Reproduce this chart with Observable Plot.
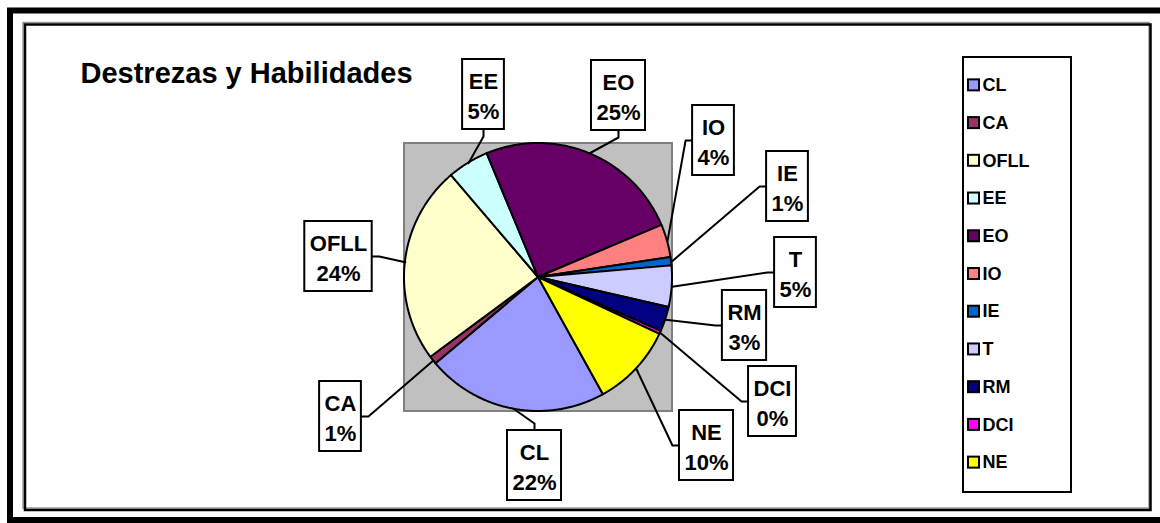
<!DOCTYPE html>
<html><head><meta charset="utf-8">
<script src="https://cdn.jsdelivr.net/npm/d3@7"></script>
<script src="https://cdn.jsdelivr.net/npm/@observablehq/plot@0.6"></script>
<style>body{margin:0;background:#fff;overflow:hidden}</style>
</head><body><div id="chart"></div>
<script>
// ---- data ----
const title = "Destrezas y Habilidades";
const categories = ["CL","CA","OFLL","EE","EO","IO","IE","T","RM","DCI","NE"];
const values = [22, 1, 24, 5, 25, 4, 1, 5, 3, 0.4, 10];
const colors = ["#9999FF","#993366","#FFFFCC","#CCFFFF","#660066","#FF8080","#0066CC","#CCCCFF","#000080","#FF00FF","#FFFF00"];

// ---- layout ----
const W = 1160, H = 523;
const FONT = "'Liberation Sans', Arial, sans-serif";
const pieGeom = {cx: 538, cy: 277, r: 134, startDeg: 151};
const plotArea = [{x1: 404, y1: 143, x2: 672, y2: 411}];
const outerFrame = [{x1: 10, y1: 10.5, x2: 1180, y2: 520}];
const innerFrameShadow = [{x1: 23, y1: 22.5, x2: 1149, y2: 508}];
const innerFrame = [{x1: 25, y1: 24.5, x2: 1150.5, y2: 510}];
const legendBox = {x1: 963, y1: 57, x2: 1071, y2: 492};
const labelLayout = {
  CL: {x: 534, y: 465, side: "top"},
  CA: {x: 340, y: 416, side: "right"},
  OFLL: {x: 338, y: 256, side: "right"},
  EE: {x: 483, y: 94, side: "bottom"},
  EO: {x: 618, y: 95, side: "bottom"},
  IO: {x: 713, y: 140, side: "left"},
  IE: {x: 787, y: 186, side: "left"},
  T: {x: 795, y: 272, side: "left"},
  RM: {x: 744, y: 325, side: "left"},
  DCI: {x: 772, y: 401, side: "left"},
  NE: {x: 706, y: 445, side: "left"}
};
const labelFont = 22, labelBoxH = 70, labelPad = 5, stub = 7;

// ---- computations ----
const total = d3.sum(values);
const a0 = pieGeom.startDeg * Math.PI / 180;
const arcs = d3.pie().sort(null).value(d => d).startAngle(a0).endAngle(a0 + 2 * Math.PI)(values);

const wedgePts = [];
arcs.forEach((a, i) => {
  const n = Math.max(2, Math.ceil((a.endAngle - a.startAngle) / (Math.PI / 360)));
  for (let k = 0; k <= n; k++) {
    const t = a.startAngle + (a.endAngle - a.startAngle) * k / n;
    wedgePts.push({key: categories[i], cx: pieGeom.cx, cy: pieGeom.cy,
      x: pieGeom.cx + pieGeom.r * Math.sin(t), y: pieGeom.cy - pieGeom.r * Math.cos(t)});
  }
});

const ctx = document.createElement("canvas").getContext("2d");
ctx.font = `bold ${labelFont}px ${FONT}`;

const labels = [], leaders = [];
arcs.forEach((a, i) => {
  const name = categories[i];
  const pct = Math.round(values[i] / total * 100) + "%";
  const L = labelLayout[name];
  const w = Math.max(ctx.measureText(name).width, ctx.measureText(pct).width) + 2 * labelPad;
  const box = {key: name, text: name + "\n" + pct, x: L.x, y: L.y,
    x1: L.x - w / 2, x2: L.x + w / 2, y1: L.y - labelBoxH / 2, y2: L.y + labelBoxH / 2};
  labels.push(box);
  const mid = (a.startAngle + a.endAngle) / 2;
  const ax = pieGeom.cx + pieGeom.r * Math.sin(mid), ay = pieGeom.cy - pieGeom.r * Math.cos(mid);
  let p0, p1;
  if (L.side === "top") { p0 = [L.x, box.y1]; p1 = [L.x, box.y1 - stub]; }
  else if (L.side === "bottom") { p0 = [L.x, box.y2]; p1 = [L.x, box.y2 + stub]; }
  else if (L.side === "left") { p0 = [box.x1, L.y]; p1 = [box.x1 - stub, L.y]; }
  else { p0 = [box.x2, L.y]; p1 = [box.x2 + stub, L.y]; }
  leaders.push({key: name, x: p0[0], y: p0[1]}, {key: name, x: p1[0], y: p1[1]}, {key: name, x: ax, y: ay});
});

const step = (legendBox.y2 - legendBox.y1 - 20) / categories.length;
const legend = categories.map((c, i) => {
  const yc = legendBox.y1 + 10 + step * (i + 0.5) - 1;
  return {key: c, yc, sx1: legendBox.x1 + 5, sx2: legendBox.x1 + 16, sy1: yc - 5.5, sy2: yc + 5.5, tx: legendBox.x1 + 19};
});

const chart = Plot.plot({
  width: W, height: H, margin: 0,
  x: {domain: [0, W], range: [0, W], axis: null},
  y: {domain: [0, H], range: [0, H], axis: null},
  color: {domain: categories, range: colors},
  style: {fontFamily: FONT, background: "white"},
  marks: [
    Plot.rect(outerFrame, {x1: "x1", y1: "y1", x2: "x2", y2: "y2", fill: "none", stroke: "black", strokeWidth: 6}),
    Plot.rect(innerFrameShadow, {x1: "x1", y1: "y1", x2: "x2", y2: "y2", fill: "none", stroke: "#999", strokeWidth: 1.5}),
    Plot.rect(innerFrame, {x1: "x1", y1: "y1", x2: "x2", y2: "y2", fill: "none", stroke: "black", strokeWidth: 2.5}),
    Plot.rect(plotArea, {x1: "x1", y1: "y1", x2: "x2", y2: "y2", fill: "#C0C0C0", stroke: "#808080", strokeWidth: 2}),
    Plot.area(wedgePts, {x1: "cx", y1: "cy", x2: "x", y2: "y", z: "key", fill: "key",
      stroke: "black", strokeWidth: 2, strokeLinejoin: "round", curve: "linear"}),
    Plot.line(leaders, {x: "x", y: "y", z: "key", stroke: "black", strokeWidth: 2, curve: "linear"}),
    Plot.rect(labels, {x1: "x1", y1: "y1", x2: "x2", y2: "y2", fill: "white", stroke: "black", strokeWidth: 2}),
    Plot.text(labels, {x: "x", y: "y", text: "text", fontSize: labelFont, fontWeight: "bold", fill: "black", lineHeight: 1.36}),
    Plot.text([title], {x: () => 80, y: () => 82, text: d => d, fontSize: 29, fontWeight: "bold", textAnchor: "start", lineAnchor: "bottom", fill: "black"}),
    Plot.rect([legendBox], {x1: "x1", y1: "y1", x2: "x2", y2: "y2", fill: "white", stroke: "black", strokeWidth: 2}),
    Plot.rect(legend, {x1: "sx1", y1: "sy1", x2: "sx2", y2: "sy2", fill: "key", stroke: "black", strokeWidth: 2}),
    Plot.text(legend, {x: "tx", y: "yc", text: "key", fontSize: 18, fontWeight: "bold", textAnchor: "start", fill: "black"})
  ]
});
document.getElementById("chart").appendChild(chart);
</script>
</body></html>
